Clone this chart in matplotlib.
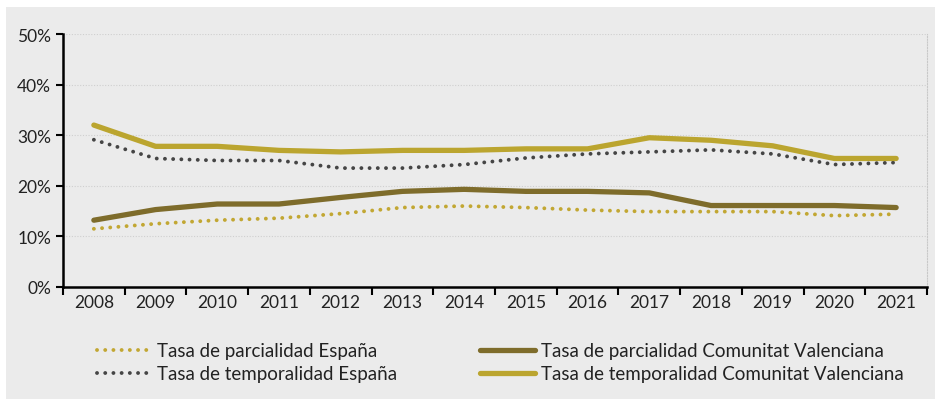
import numpy as np
import matplotlib.pyplot as plt
from matplotlib.patches import Rectangle
from matplotlib.ticker import FixedLocator, PercentFormatter

plt.rcParams['font.family'] = ['Lato', 'DejaVu Sans']

##### datos #####
years = ["2008", "2009", "2010", "2011", "2012", "2013", "2014",
         "2015", "2016", "2017", "2018", "2019", "2020", "2021"]
parcialidad_esp = [11.5, 12.5, 13.2, 13.6, 14.5, 15.7, 16.0, 15.7, 15.2, 14.9, 14.9, 14.9, 14.1, 14.4]
temporalidad_esp = [29.1, 25.4, 25.0, 25.0, 23.5, 23.5, 24.2, 25.5, 26.3, 26.7, 27.1, 26.3, 24.2, 24.6]
parcialidad_cv = [13.2, 15.3, 16.4, 16.4, 17.7, 18.9, 19.3, 18.9, 18.9, 18.6, 16.1, 16.1, 16.1, 15.7]
temporalidad_cv = [32.0, 27.8, 27.8, 27.0, 26.7, 27.0, 27.0, 27.3, 27.3, 29.5, 29.0, 27.9, 25.4, 25.4]

labels = ["Tasa de parcialidad España", "Tasa de temporalidad España",
          "Tasa de parcialidad Comunitat Valenciana", "Tasa de temporalidad Comunitat Valenciana"]

gold = "#BBA52F"
olive = "#7E6C2B"
dotgold = "#C2A733"
dotgray = "#454545"
bg = "#EBEBEB"

fig = plt.figure(figsize=(9.41, 4.06), dpi=100, facecolor="white")
fig.patches.append(Rectangle((6 / 941, 1 - 400 / 406), 929 / 941, 392 / 406,
                             transform=fig.transFigure, facecolor=bg,
                             edgecolor="none", zorder=-5))
ax = fig.add_axes([63 / 941, 1 - 288 / 406, 864 / 941, 253 / 406])
ax.set_facecolor(bg)

x = np.arange(len(years)) + 0.5
dots = (0, (0.01, 2.1))
l1, = ax.plot(x, parcialidad_esp, color=dotgold, lw=2.8, ls=dots, dash_capstyle="round")
l2, = ax.plot(x, temporalidad_esp, color=dotgray, lw=2.8, ls=dots, dash_capstyle="round")
l3, = ax.plot(x, parcialidad_cv, color=olive, lw=3.8, solid_capstyle="round")
l4, = ax.plot(x, temporalidad_cv, color=gold, lw=3.8, solid_capstyle="round")

ax.set_xlim(0, len(years))
ax.set_ylim(0, 50)
ax.set_yticks([0, 10, 20, 30, 40, 50])
ax.yaxis.set_major_formatter(PercentFormatter(decimals=0))
ax.xaxis.set_major_locator(FixedLocator(np.arange(len(years) + 1)))
ax.xaxis.set_minor_locator(FixedLocator(x))
ax.set_xticklabels([])
ax.set_xticklabels(years, minor=True)
ax.tick_params(axis="x", which="major", length=6, width=1.5, color="black", direction="out")
ax.tick_params(axis="x", which="minor", length=0, pad=5, labelsize=12.5, labelcolor="#222222")
ax.tick_params(axis="y", length=5, width=1.5, color="black", labelsize=12.5, labelcolor="#222222")

ax.grid(axis="y", color="#cfcfcf", ls=(0, (1, 1.5)), lw=0.8)
ax.set_axisbelow(True)
for s in ["left", "bottom"]:
    ax.spines[s].set_linewidth(1.8)
    ax.spines[s].set_color("black")
ax.spines["top"].set_visible(False)
ax.spines["right"].set_color("#c8c8c8")
ax.spines["right"].set_linestyle((0, (1, 1.5)))
ax.spines["right"].set_linewidth(0.8)

leg = fig.legend([l1, l2, l3, l4], labels, ncol=2, loc="upper left",
                 bbox_to_anchor=(89 / 941, 1 - 336 / 406), frameon=False,
                 fontsize=13.5, handlelength=2.95, handletextpad=0.3,
                 columnspacing=4.4, labelspacing=0.3, borderaxespad=0)
for t in leg.get_texts():
    t.set_color("#222222")

fig.savefig("out.png", dpi=100, facecolor="white")
